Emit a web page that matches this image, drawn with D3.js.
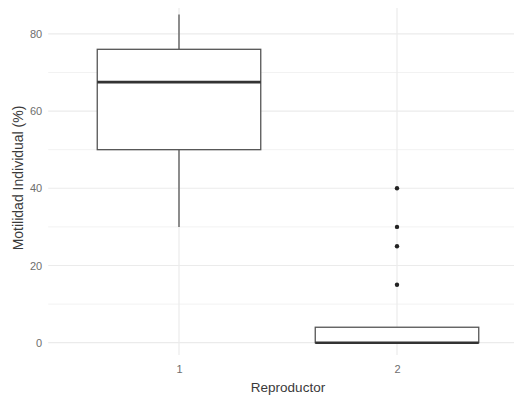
<!DOCTYPE html>
<html>
<head>
<meta charset="utf-8">
<script src="https://cdn.jsdelivr.net/npm/d3@7"></script>
<style>
  html, body { margin: 0; padding: 0; background: #fff; }
  svg { display: block; }
</style>
</head>
<body>
<svg id="chart" width="514" height="399"></svg>
<script>
// ---- data ----
const categories = ["1", "2"];
const whiskerLow = [30, 0];
const q1 = [50, 0];
const medians = [67.5, 0];
const q3 = [76, 4];
const whiskerHigh = [85, 4];
const outliers = [[], [15, 25, 30, 40]];
const yMajorTicks = [0, 20, 40, 60, 80];
const yMinorTicks = [10, 30, 50, 70];
const xTitle = "Reproductor";
const yTitle = "Motilidad Individual (%)";

// ---- layout ----
const svg = d3.select("#chart");
const panel = { left: 48.2, right: 527.8, top: 8, bottom: 355 };

const x = d3.scalePoint()
  .domain(categories)
  .range([panel.left, panel.right])
  .padding(0.6);

const y = d3.scaleLinear()
  .domain([-3.19, 86.7])
  .range([panel.bottom, panel.top]);

const boxW = x.step() * 0.75;

// grid
const grid = svg.append("g");
grid.selectAll("line.minor").data(yMinorTicks).join("line")
  .attr("x1", panel.left).attr("x2", 514)
  .attr("y1", d => y(d)).attr("y2", d => y(d))
  .attr("stroke", "#f2f2f2").attr("stroke-width", 1);
grid.selectAll("line.major").data(yMajorTicks).join("line")
  .attr("x1", panel.left).attr("x2", 514)
  .attr("y1", d => y(d)).attr("y2", d => y(d))
  .attr("stroke", "#ebebeb").attr("stroke-width", 1.2);
grid.selectAll("line.vx").data(categories).join("line")
  .attr("x1", d => x(d)).attr("x2", d => x(d))
  .attr("y1", panel.top).attr("y2", panel.bottom)
  .attr("stroke", "#ebebeb").attr("stroke-width", 1.2);

// y axis labels
const yAxis = d3.axisLeft(y).tickValues(yMajorTicks).tickSize(0).tickPadding(6);
const gy = svg.append("g").attr("transform", `translate(${panel.left},0)`).call(yAxis);
gy.select(".domain").remove();
gy.selectAll("text").attr("fill", "#6e6e6e").style("font-family", "Liberation Sans, Arial, sans-serif").style("font-size", "11px");

// x axis labels
const xAxis = d3.axisBottom(x).tickSize(0).tickPadding(10);
const gx = svg.append("g").attr("transform", `translate(0,${panel.bottom})`).call(xAxis);
gx.select(".domain").remove();
gx.selectAll("text").attr("fill", "#6e6e6e").style("font-family", "Liberation Sans, Arial, sans-serif").style("font-size", "11px");

// titles
svg.append("text")
  .attr("x", 288).attr("y", 392)
  .attr("text-anchor", "middle")
  .attr("fill", "#3a3a3a")
  .style("font-family", "Liberation Sans, Arial, sans-serif")
  .style("font-size", "13.5px")
  .text(xTitle);
svg.append("text")
  .attr("transform", `translate(23,178) rotate(-90)`)
  .attr("text-anchor", "middle")
  .attr("fill", "#3a3a3a")
  .style("font-family", "Liberation Sans, Arial, sans-serif")
  .style("font-size", "14px")
  .text(yTitle);

// boxes
const boxes = svg.append("g");
categories.forEach((c, i) => {
  const cx = x(c);
  const g = boxes.append("g");
  // whiskers
  if (whiskerHigh[i] > q3[i]) {
    g.append("line").attr("x1", cx).attr("x2", cx)
      .attr("y1", y(q3[i])).attr("y2", y(whiskerHigh[i]))
      .attr("stroke", "#555").attr("stroke-width", 1.3);
  }
  if (whiskerLow[i] < q1[i]) {
    g.append("line").attr("x1", cx).attr("x2", cx)
      .attr("y1", y(q1[i])).attr("y2", y(whiskerLow[i]))
      .attr("stroke", "#555").attr("stroke-width", 1.3);
  }
  g.append("rect")
    .attr("x", cx - boxW / 2).attr("width", boxW)
    .attr("y", y(q3[i])).attr("height", Math.max(0, y(q1[i]) - y(q3[i])))
    .attr("fill", "#fff").attr("stroke", "#555").attr("stroke-width", 1.3);
  g.append("line")
    .attr("x1", cx - boxW / 2).attr("x2", cx + boxW / 2)
    .attr("y1", y(medians[i])).attr("y2", y(medians[i]))
    .attr("stroke", "#333").attr("stroke-width", 2.6);
  g.selectAll("circle").data(outliers[i]).join("circle")
    .attr("cx", cx).attr("cy", d => y(d)).attr("r", 2.2)
    .attr("fill", "#222");
});
</script>
</body>
</html>
